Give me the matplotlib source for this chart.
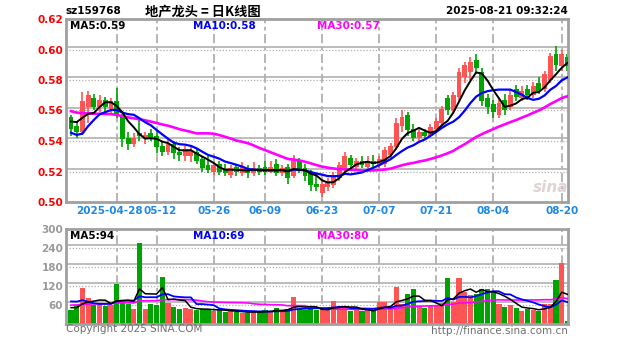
import numpy as np
import matplotlib
matplotlib.use("Agg")
import matplotlib.pyplot as plt

# ---------------- data ----------------
code = "sz159768"
title = "地产龙头 = 日K线图"
stamp = "2025-08-21 09:32:24"

opens = [0.556, 0.550, 0.546, 0.562, 0.568, 0.562, 0.567, 0.561, 0.566, 0.557,
         0.542, 0.538, 0.545, 0.541, 0.545, 0.543, 0.537, 0.533, 0.538, 0.533,
         0.530, 0.530, 0.533, 0.528, 0.524, 0.520, 0.525, 0.521, 0.518, 0.523,
         0.519, 0.522, 0.519, 0.522, 0.523, 0.520, 0.525, 0.519, 0.523, 0.517,
         0.527, 0.522, 0.519, 0.512, 0.506, 0.510, 0.511, 0.516, 0.522, 0.529,
         0.523, 0.527, 0.523, 0.527, 0.524, 0.525, 0.531, 0.536, 0.550, 0.557,
         0.548, 0.542, 0.546, 0.543, 0.548, 0.552, 0.568, 0.560, 0.569, 0.582,
         0.585, 0.593, 0.585, 0.568, 0.564, 0.557, 0.567, 0.562, 0.574, 0.568,
         0.574, 0.570, 0.578, 0.574, 0.580, 0.597, 0.589, 0.595]
highs = [0.557, 0.553, 0.572, 0.573, 0.571, 0.570, 0.569, 0.568, 0.575, 0.558,
         0.546, 0.545, 0.556, 0.546, 0.548, 0.547, 0.540, 0.541, 0.540, 0.536,
         0.537, 0.536, 0.535, 0.530, 0.530, 0.526, 0.527, 0.525, 0.524, 0.525,
         0.526, 0.524, 0.526, 0.524, 0.527, 0.527, 0.528, 0.524, 0.525, 0.531,
         0.529, 0.525, 0.521, 0.519, 0.515, 0.516, 0.520, 0.526, 0.533, 0.531,
         0.529, 0.530, 0.530, 0.531, 0.530, 0.536, 0.539, 0.555, 0.560, 0.559,
         0.551, 0.549, 0.548, 0.551, 0.555, 0.563, 0.570, 0.572, 0.588, 0.592,
         0.595, 0.597, 0.588, 0.571, 0.567, 0.568, 0.571, 0.574, 0.577, 0.576,
         0.577, 0.579, 0.582, 0.586, 0.598, 0.602, 0.600, 0.597]
lows = [0.543, 0.542, 0.544, 0.552, 0.560, 0.559, 0.558, 0.558, 0.555, 0.536,
        0.534, 0.536, 0.540, 0.538, 0.540, 0.532, 0.530, 0.531, 0.528, 0.527,
        0.527, 0.526, 0.525, 0.520, 0.519, 0.518, 0.518, 0.517, 0.516, 0.517,
        0.517, 0.516, 0.517, 0.518, 0.518, 0.519, 0.517, 0.517, 0.512, 0.516,
        0.519, 0.514, 0.507, 0.507, 0.503, 0.507, 0.509, 0.514, 0.520, 0.522,
        0.521, 0.522, 0.521, 0.523, 0.522, 0.523, 0.529, 0.534, 0.546, 0.543,
        0.540, 0.540, 0.541, 0.542, 0.546, 0.550, 0.557, 0.558, 0.567, 0.578,
        0.580, 0.584, 0.563, 0.558, 0.555, 0.555, 0.557, 0.560, 0.566, 0.566,
        0.567, 0.568, 0.571, 0.572, 0.578, 0.586, 0.586, 0.586]
closes = [0.548, 0.546, 0.566, 0.570, 0.562, 0.567, 0.562, 0.566, 0.558, 0.541,
          0.538, 0.542, 0.543, 0.544, 0.542, 0.536, 0.533, 0.538, 0.532, 0.531,
          0.535, 0.534, 0.527, 0.522, 0.521, 0.524, 0.520, 0.519, 0.522, 0.520,
          0.523, 0.519, 0.522, 0.520, 0.520, 0.523, 0.519, 0.522, 0.516, 0.528,
          0.521, 0.517, 0.511, 0.510, 0.512, 0.514, 0.518, 0.524, 0.530, 0.524,
          0.527, 0.524, 0.527, 0.525, 0.528, 0.534, 0.537, 0.552, 0.556, 0.547,
          0.542, 0.546, 0.543, 0.549, 0.553, 0.561, 0.560, 0.570, 0.585, 0.590,
          0.592, 0.588, 0.566, 0.562, 0.559, 0.565, 0.560, 0.570, 0.569, 0.573,
          0.570, 0.576, 0.573, 0.584, 0.596, 0.590, 0.597, 0.589]
volumes = [45, 60, 114, 82, 60, 62, 58, 60, 126, 65,
           62, 47, 256, 48, 62, 60, 150, 66, 55, 48,
           50, 46, 44, 48, 46, 42, 44, 38, 40, 38,
           36, 35, 40, 38, 45, 40, 52, 40, 48, 85,
           50, 44, 48, 44, 46, 44, 72, 56, 56, 40,
           44, 40, 44, 40, 70, 68, 55, 117, 62, 95,
           112, 54, 52, 56, 60, 66, 146, 68, 146, 100,
           92, 96, 110, 112, 100, 62, 55, 60, 50, 40,
           48, 45, 42, 64, 64, 139, 193, 8]
# estimated closes / volumes of the 29 sessions before the window (MA warm-up)
prior_closes = [0.575, 0.578, 0.572, 0.570, 0.568, 0.566, 0.569, 0.571, 0.567, 0.563,
                0.560, 0.562, 0.565, 0.566, 0.564, 0.561, 0.563, 0.565, 0.566, 0.562,
                0.560, 0.558, 0.520, 0.522, 0.530, 0.548, 0.552, 0.557, 0.559]
prior_volumes = [50, 55, 48, 52, 60, 58, 50, 47, 55, 62,
                 58, 52, 49, 53, 57, 60, 55, 50, 52, 58,
                 65, 70, 130, 110, 80, 60, 55, 50, 48]
date_ticks = [8, 15, 25, 34, 44, 54, 64, 74, 86]
date_labels = ["2025-04-28", "05-12", "05-26", "06-09", "06-23",
               "07-07", "07-21", "08-04", "08-20"]
price_ticks = [0.50, 0.52, 0.54, 0.56, 0.58, 0.60, 0.62]
vol_ticks = [60, 120, 180, 240, 300]

# ---------------- helpers ----------------
def ma(prior, vals, n):
    s = np.array(prior + vals, dtype=float)
    out = np.convolve(s, np.ones(n) / n, mode="valid")
    return out[-len(vals):]

n = len(closes)
x = np.arange(n)
o = np.array(opens); c = np.array(closes)
h = np.array(highs); l = np.array(lows)
up = c >= o
RED = "#ff5454"
GREEN = "#00a400"
cols = np.where(up, RED, GREEN)

W, H = 627, 342
def rect(left, top, right, bottom):
    return [left / W, 1 - bottom / H, (right - left) / W, (bottom - top) / H]

fig = plt.figure(figsize=(W / 100, H / 100), dpi=100)
fig.patch.set_facecolor("white")
ax = fig.add_axes(rect(66, 19, 568, 202))
axv = fig.add_axes(rect(66, 229, 568, 324))

XL = (-0.88, 87.1)
GRID = "#b0b0b0"

def style(a, levels, off, ylim):
    a.set_xlim(*XL)
    a.set_ylim(*ylim)
    for lv in levels:
        a.axhline(lv, color=GRID, lw=0.9, ls=(0, (1, 1.5)), zorder=0)
        a.axhline(lv + off, color=GRID, lw=1.2, zorder=0)
    for t in date_ticks:
        a.axvline(t, color=GRID, lw=1.3, ls=(0, (5, 2, 2, 2)), zorder=0)
    for s in a.spines.values():
        s.set_color("#a0a0a0")
        s.set_linewidth(2)
    a.set_xticks([])
    a.tick_params(axis="y", length=0, pad=2)

style(ax, price_ticks[1:-1], 0.0017, (0.50, 0.62))
style(axv, vol_ticks[:-1], 8, (0, 300))

# price panel
ax.vlines(x, l, h, colors=cols, lw=1.2, zorder=2)
ax.bar(x, np.maximum(np.abs(c - o), 0.0007), bottom=np.minimum(o, c),
       width=0.85, color=cols, zorder=3, linewidth=0)
ma5 = ma(prior_closes, closes, 5)
ma10 = ma(prior_closes, closes, 10)
ma30 = ma(prior_closes, closes, 30)
ax.plot(x, ma30, color="#ff00ff", lw=1.9, zorder=4)
ax.plot(x, ma10, color="#0000ff", lw=1.6, zorder=5)
ax.plot(x, ma5, color="black", lw=1.4, zorder=6)
ax.set_yticks(price_ticks)
ax.set_yticklabels([f"{v:.2f}" for v in price_ticks], color="#ff0000",
                   fontsize=7.5, fontweight="bold")

# volume panel
axv.bar(x, volumes, width=0.9, color=cols, linewidth=0, zorder=2)
vma5 = ma(prior_volumes, volumes, 5)
vma10 = ma(prior_volumes, volumes, 10)
vma30 = ma(prior_volumes, volumes, 30)
axv.plot(x, vma30, color="#ff00ff", lw=1.2, zorder=4)
axv.plot(x, vma10, color="#0000ff", lw=1.3, zorder=5)
axv.plot(x, vma5, color="black", lw=1.1, zorder=6)
axv.set_yticks(vol_ticks)
axv.set_yticklabels([str(v) for v in vol_ticks], color="#9a9a9a",
                    fontsize=7.5, fontweight="bold")

# date labels
for i, (t, lab) in enumerate(zip(date_ticks, date_labels)):
    xf = ax.transData.transform((t, 0.5))
    xf = fig.transFigure.inverted().transform(xf)[0]
    if i == 0:
        xf -= 7 / W
    elif i == 1:
        xf += 4 / W
    fig.text(xf, 1 - 211 / H, lab, color="#1e88e5", fontsize=7.5,
             fontweight="bold", ha="center", va="center")

# legends
def ptext(px, py, s, col, size=7.5, **kw):
    fig.text(px / W, 1 - py / H, s, color=col, fontsize=size, va="center", **kw)

ptext(70, 26, f"MA5:{ma5[-1]:.2f}", "black", fontweight="bold")
ptext(193, 26, f"MA10:{ma10[-1]:.2f}", "#0000ff", fontweight="bold")
ptext(317, 26, f"MA30:{ma30[-1]:.2f}", "#ff00ff", fontweight="bold")
ptext(70, 236, f"MA5:{vma5[-1]:.0f}", "black", fontweight="bold")
ptext(193, 236, f"MA10:{vma10[-1]:.0f}", "#0000ff", fontweight="bold")
ptext(317, 236, f"MA30:{vma30[-1]:.0f}", "#ff00ff", fontweight="bold")

# header
ptext(66, 11, code, "black", fontweight="bold")
fig.text(203 / W, 1 - 11 / H, title, color="black", fontsize=9.5, fontweight="bold",
         ha="center", va="center", family=["Noto Sans CJK SC", "DejaVu Sans"])
fig.text(568 / W, 1 - 11 / H, stamp, color="black", fontsize=7.5, fontweight="bold",
         ha="right", va="center")

# footer / watermark
ptext(66, 329, "Copyright 2025 SINA.COM", "#707070", size=7.5)
fig.text(568 / W, 1 - 331 / H, "http://finance.sina.com.cn", color="#707070",
         fontsize=7.5, ha="right", va="center")
fig.text(551 / W, 1 - 187 / H, "sina", color="#d8c8c8", fontsize=11,
         fontweight="bold", style="italic", ha="center", va="center", alpha=0.8)

fig.savefig("out.png", dpi=100)
